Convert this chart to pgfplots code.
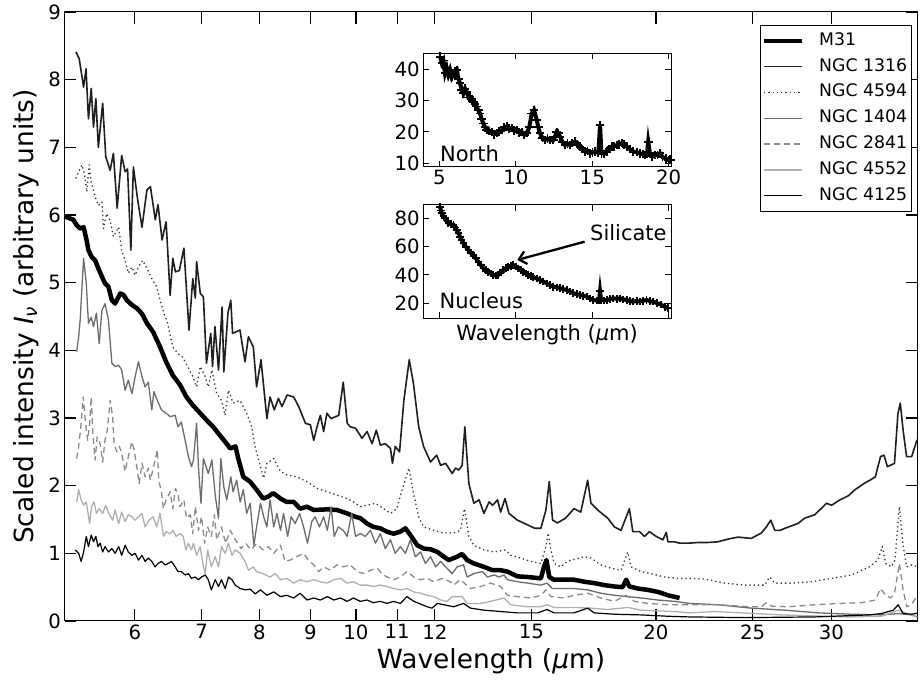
\documentclass[border=0pt]{standalone}
\usepackage{fontspec}
\setmainfont{DejaVu Sans}[ItalicFont={DejaVu Sans Oblique}]
\usepackage{pgfplots}
\pgfplotsset{compat=1.18}
\usetikzlibrary{arrows.meta}
\definecolor{cA}{HTML}{1E1E1E}
\definecolor{cB}{HTML}{333333}
\definecolor{cC}{HTML}{6B6B6B}
\definecolor{cD}{HTML}{8A8A8A}
\definecolor{cE}{HTML}{AFAFAF}
\newcommand\tfs{\fontsize{19.7}{23}\selectfont}
\newcommand\lab{\fontsize{26.4}{30}\selectfont}
\newcommand\lfs{\fontsize{17.3}{20}\selectfont}
\newcommand\ifs{\fontsize{21}{24}\selectfont}
\begin{document}
\begin{tikzpicture}
\path[use as bounding box] (-64.5pt,-61pt) rectangle (857.5pt,621pt);
\begin{axis}[
  at={(0pt,0pt)}, anchor=south west,
  width=853pt, height=609pt, scale only axis,
  xmode=log, xmin=5.1, xmax=36.6, ymin=0, ymax=9,
  xtick={6,7,8,9,10,11,12,15,20,25,30},
  xticklabels={6,7,8,9,10,11,12,15,20,25,30},
  ytick={0,1,2,3,4,5,6,7,8,9},
  xminorticks=false, yminorticks=false,
  tick pos=both, xticklabel pos=lower, yticklabel pos=left,
  tick align=inside,
  major tick length=12pt,
  major tick style={line width=1.2pt, black},
  axis line style={line width=1pt, black},
  ticklabel style={font=\tfs},
  /pgf/number format/assume math mode=true,
  xlabel={Wavelength ({\itshape μ}m)},
  ylabel={Scaled intensity {\itshape I\textsubscript{ν}} (arbitrary units)},
  xlabel style={font=\lab, at={(axis description cs:0.5,-0.0657)}, anchor=center},
  ylabel style={font=\lab, at={(axis description cs:-0.0451,0.5)}, anchor=center},
  legend cell align=left,
  legend image code/.code={\draw[#1,line cap=butt] (0pt,0pt) -- (38pt,0pt);},
  legend style={at={(1,1)}, anchor=north east, xshift=-6pt, yshift=-13pt,
    draw=black, line width=0.8pt, fill=white, font=\lfs,
    inner xsep=1pt, inner ysep=4pt, row sep=2.8pt,
    nodes={inner sep=3pt, text height=13pt, text depth=4pt},
    /tikz/every odd column/.append style={column sep=12pt}},
  line join=round,
]
% M31
\addplot[black, line width=4.5pt] coordinates {
(5.10,5.98)(5.205,5.93)(5.245,5.85)(5.288,5.80)(5.33,5.82)(5.363,5.65)(5.39,5.48)(5.43,5.38)(5.474,5.33)(5.515,5.21)(5.56,5.09)(5.60,4.99)(5.645,4.94)(5.69,4.74)(5.733,4.69)(5.80,4.84)(5.845,4.82)(5.89,4.74)(5.96,4.67)(6.03,4.62)(6.10,4.54)(6.17,4.40)(6.26,4.27)(6.36,4.05)(6.45,3.83)(6.55,3.63)(6.66,3.49)(6.76,3.31)(6.86,3.19)(6.98,3.07)(7.08,2.97)(7.19,2.87)(7.28,2.77)(7.39,2.65)(7.48,2.55)(7.57,2.58)(7.62,2.40)(7.71,2.13)(7.83,2.06)(7.95,1.94)(8.07,1.81)(8.17,1.84)(8.26,1.89)(8.40,1.81)(8.52,1.76)(8.66,1.76)(8.79,1.66)(8.93,1.69)(9.07,1.64)(9.36,1.65)(9.57,1.64)(9.80,1.59)(9.94,1.55)(10.10,1.52)(10.26,1.44)(10.41,1.39)(10.58,1.37)(10.74,1.32)(10.91,1.29)(11.08,1.32)(11.21,1.37)(11.34,1.27)(11.52,1.12)(11.69,1.07)(11.88,1.06)(12.07,1.02)(12.25,0.95)(12.39,0.90)(12.63,0.95)(12.78,0.99)(12.93,0.90)(13.13,0.85)(13.44,0.80)(13.71,0.75)(13.97,0.75)(14.19,0.73)(14.52,0.66)(14.87,0.65)(15.33,0.63)(15.44,0.80)(15.53,0.90)(15.63,0.65)(15.80,0.61)(16.16,0.61)(16.55,0.61)(16.95,0.58)(17.34,0.56)(17.75,0.53)(18.17,0.51)(18.52,0.50)(18.67,0.61)(18.81,0.51)(19.18,0.48)(19.62,0.46)(20.09,0.43)(20.56,0.38)(21.12,0.34)
};
\addlegendentry{M31}
% NGC 1316
\addplot[cA, line width=1.6pt] coordinates {
(5.236,8.41)(5.276,8.31)(5.330,7.89)(5.36,8.16)(5.39,7.42)(5.425,7.87)(5.453,7.30)(5.483,7.72)(5.515,7.00)(5.57,7.65)(5.61,6.86)(5.667,6.66)(5.71,6.91)(5.76,6.10)(5.82,6.88)(5.867,6.64)(5.90,6.68)(5.945,5.48)(5.98,6.71)(6.04,6.22)(6.10,5.82)(6.17,6.37)(6.22,6.42)(6.29,5.93)(6.33,6.15)(6.39,5.63)(6.45,5.90)(6.51,4.81)(6.55,5.36)(6.59,5.16)(6.65,5.18)(6.72,5.51)(6.80,4.30)(6.86,5.06)(6.90,4.77)(6.92,5.31)(6.98,4.84)(7.03,4.79)(7.08,3.81)(7.15,4.25)(7.18,3.76)(7.22,4.35)(7.28,3.71)(7.34,4.64)(7.37,3.68)(7.44,4.55)(7.49,4.74)(7.52,4.25)(7.65,4.30)(7.74,3.83)(7.80,4.20)(7.89,4.05)(7.95,3.46)(8.03,3.86)(8.14,2.99)(8.20,3.31)(8.28,3.12)(8.36,3.29)(8.43,3.17)(8.53,3.34)(8.66,3.31)(8.76,3.17)(8.90,2.92)(9.0,2.90)(9.07,2.67)(9.14,2.87)(9.21,3.04)(9.28,2.80)(9.35,3.07)(9.44,2.99)(9.61,3.04)(9.71,3.53)(9.80,2.92)(9.87,2.87)(9.99,2.85)(10.14,2.70)(10.26,2.80)(10.38,2.62)(10.48,2.82)(10.58,2.60)(10.70,2.62)(10.83,2.55)(10.88,2.33)(10.95,2.58)(11.06,2.50)(11.17,3.26)(11.31,3.86)(11.42,3.51)(11.56,2.87)(11.69,2.58)(11.88,2.35)(12.05,2.45)(12.16,2.30)(12.30,2.33)(12.49,2.18)(12.59,2.26)(12.68,2.23)(12.78,2.30)(12.86,2.87)(12.98,2.03)(13.13,1.74)(13.29,1.79)(13.44,1.59)(13.60,1.76)(13.71,1.71)(13.87,1.79)(13.97,1.61)(14.11,1.81)(14.24,1.59)(14.52,1.49)(14.87,1.42)(15.11,1.37)(15.33,1.37)(15.51,1.64)(15.63,2.06)(15.75,1.49)(15.93,1.45)(16.23,1.52)(16.55,1.66)(16.81,1.61)(17.08,2.08)(17.21,1.74)(17.48,1.64)(17.89,1.52)(18.17,1.39)(18.45,1.34)(18.81,1.66)(18.96,1.32)(19.26,1.32)(19.48,1.25)(19.70,1.32)(20.01,1.25)(20.32,1.20)(20.48,1.31)(20.56,1.17)(20.88,1.17)(21.12,1.15)(21.54,1.15)(22.05,1.16)(22.55,1.16)(23.07,1.17)(23.62,1.21)(24.17,1.24)(24.92,1.22)(25.51,1.30)(25.81,1.39)(26.07,1.49)(26.32,1.34)(26.63,1.34)(27.16,1.39)(27.76,1.44)(28.2,1.52)(28.86,1.57)(29.66,1.74)(30.0,1.71)(30.59,1.79)(31.19,1.85)(31.67,1.94)(32.41,2.04)(32.78,2.08)(33.2,2.13)(33.6,2.43)(33.87,2.45)(34.14,2.28)(34.7,2.33)(34.98,3.07)(35.17,3.22)(35.40,2.82)(35.68,2.43)(36.11,2.43)(36.54,2.67)(36.7,2.67)
};
\addlegendentry{NGC 1316}
% NGC 4594
\addplot[cB, line width=1.3pt, dash pattern=on 1.3pt off 3pt] coordinates {
(5.236,6.54)(5.27,6.64)(5.31,6.74)(5.34,6.61)(5.37,6.34)(5.40,6.74)(5.42,6.51)(5.474,6.27)(5.515,6.14)(5.56,6.19)(5.58,5.80)(5.62,6.02)(5.667,5.92)(5.71,5.68)(5.78,5.82)(5.82,5.48)(5.867,5.33)(5.91,5.14)(5.96,5.23)(6.004,5.11)(6.05,5.23)(6.11,5.33)(6.17,5.21)(6.24,5.06)(6.31,4.94)(6.36,4.74)(6.435,4.49)(6.46,4.45)(6.55,4.05)(6.63,3.95)(6.70,3.90)(6.78,3.76)(6.86,3.61)(6.92,3.46)(6.98,3.76)(7.06,3.61)(7.11,3.46)(7.17,3.71)(7.25,3.36)(7.33,3.26)(7.39,3.04)(7.45,3.41)(7.53,3.22)(7.65,3.26)(7.77,3.07)(7.86,2.87)(7.92,2.58)(8.02,2.28)(8.08,2.11)(8.14,2.33)(8.27,2.40)(8.40,2.21)(8.52,2.16)(8.72,2.13)(8.93,2.06)(9.14,1.96)(9.36,1.91)(9.57,1.86)(9.80,1.81)(9.94,1.76)(10.10,1.69)(10.26,1.71)(10.46,1.74)(10.66,1.66)(10.83,1.59)(10.99,1.66)(11.12,1.93)(11.30,2.26)(11.42,1.89)(11.56,1.54)(11.69,1.39)(11.97,1.34)(12.25,1.30)(12.53,1.30)(12.73,1.34)(12.85,1.66)(12.98,1.25)(13.13,1.12)(13.44,1.05)(13.76,1.02)(14.13,1.05)(14.30,0.97)(14.63,0.93)(14.98,0.88)(15.33,0.85)(15.51,1.10)(15.59,1.30)(15.69,1.05)(15.81,0.85)(16.05,0.80)(16.30,0.88)(16.55,0.91)(16.95,0.95)(17.21,0.93)(17.61,0.83)(18.02,0.78)(18.45,0.75)(18.74,1.02)(18.88,0.80)(19.32,0.73)(19.77,0.70)(20.39,0.65)(21.04,0.63)(21.61,0.63)(22.37,0.62)(23.43,0.56)(24.54,0.53)(25.71,0.53)(26.0,0.65)(26.32,0.56)(27.34,0.56)(28.64,0.58)(30.0,0.63)(31.42,0.68)(32.74,0.80)(33.4,0.90)(33.74,1.10)(34.0,0.85)(34.46,0.80)(34.74,0.90)(35.1,1.69)(35.37,1.15)(35.69,0.80)(36.11,0.83)(36.6,0.80)
};
\addlegendentry{NGC 4594}
% NGC 1404
\addplot[cC, line width=1.3pt] coordinates {
(5.245,3.98)(5.27,4.20)(5.288,4.45)(5.33,5.36)(5.363,4.99)(5.39,4.40)(5.425,4.49)(5.453,4.35)(5.49,4.55)(5.525,4.10)(5.56,4.59)(5.60,4.69)(5.645,4.45)(5.69,3.81)(5.733,3.76)(5.78,3.78)(5.82,3.71)(5.867,3.41)(5.91,3.56)(5.96,3.36)(6.004,3.61)(6.05,3.83)(6.10,3.61)(6.144,3.46)(6.19,3.53)(6.24,3.12)(6.27,3.39)(6.32,3.26)(6.38,3.12)(6.45,3.07)(6.51,3.02)(6.586,3.04)(6.63,2.87)(6.68,2.94)(6.74,2.67)(6.79,2.43)(6.84,2.28)(6.87,2.38)(6.92,2.92)(6.95,2.28)(6.99,1.74)(7.03,2.40)(7.11,2.18)(7.17,2.38)(7.224,1.86)(7.28,1.52)(7.32,2.40)(7.37,1.98)(7.42,1.79)(7.49,2.13)(7.53,1.91)(7.59,2.08)(7.654,1.76)(7.71,1.94)(7.77,1.59)(7.833,1.74)(7.90,1.12)(7.95,1.39)(8.02,1.74)(8.08,1.54)(8.14,1.39)(8.20,1.79)(8.27,1.39)(8.33,1.59)(8.40,1.34)(8.46,1.59)(8.54,1.25)(8.61,1.54)(8.69,1.44)(8.78,1.59)(8.86,1.39)(8.94,1.15)(9.03,1.47)(9.10,1.54)(9.19,1.39)(9.28,1.54)(9.36,1.34)(9.44,1.69)(9.51,1.25)(9.60,1.39)(9.71,1.34)(9.80,1.25)(9.90,1.59)(9.99,1.25)(10.10,1.29)(10.22,1.25)(10.34,1.34)(10.46,1.15)(10.58,1.29)(10.70,1.07)(10.83,1.20)(10.95,1.00)(11.08,1.10)(11.21,1.00)(11.34,1.20)(11.47,0.95)(11.61,1.02)(11.74,0.85)(11.88,0.95)(12.02,0.80)(12.16,0.88)(12.30,0.80)(12.49,0.70)(12.63,0.80)(12.82,0.83)(12.93,0.65)(13.13,0.70)(13.39,0.73)(13.55,0.65)(13.76,0.68)(13.92,0.65)(14.08,0.68)(14.19,0.61)(14.52,0.58)(14.87,0.56)(15.33,0.53)(15.55,0.56)(15.74,0.48)(16.18,0.48)(16.55,0.48)(17.08,0.46)(17.61,0.41)(18.17,0.38)(18.74,0.36)(19.32,0.34)(20.09,0.31)(20.88,0.29)(21.61,0.26)(23.07,0.24)(24.92,0.19)(26.93,0.16)(29.09,0.12)(31.42,0.10)(33.68,0.09)(35.02,0.11)(36.11,0.09)(36.6,0.06)
};
\addlegendentry{NGC 1404}
% NGC 2841
\addplot[cD, line width=1.3pt, dash pattern=on 6pt off 4pt] coordinates {
(5.245,2.40)(5.27,2.58)(5.30,2.92)(5.325,3.31)(5.35,2.97)(5.38,2.67)(5.405,2.92)(5.425,3.31)(5.445,2.77)(5.474,2.38)(5.50,2.72)(5.538,2.62)(5.57,2.35)(5.60,2.67)(5.63,2.82)(5.667,3.26)(5.70,3.02)(5.72,2.62)(5.755,2.50)(5.79,2.58)(5.82,2.48)(5.867,2.21)(5.91,2.43)(5.96,2.65)(5.99,2.53)(6.03,2.26)(6.06,2.03)(6.10,2.33)(6.144,2.13)(6.19,2.26)(6.22,2.08)(6.27,2.30)(6.32,2.53)(6.34,2.08)(6.38,1.91)(6.41,1.66)(6.45,1.79)(6.51,1.91)(6.55,1.66)(6.59,1.96)(6.63,1.86)(6.66,1.69)(6.72,1.79)(6.76,1.52)(6.82,1.57)(6.86,1.29)(6.90,1.69)(6.95,1.34)(7.00,1.54)(7.05,1.15)(7.10,1.39)(7.16,1.25)(7.21,1.57)(7.25,1.20)(7.33,1.39)(7.40,1.15)(7.48,1.34)(7.57,1.20)(7.67,1.07)(7.75,1.15)(7.85,1.05)(7.95,1.14)(8.07,1.05)(8.17,1.10)(8.27,1.00)(8.40,1.12)(8.49,0.88)(8.59,0.90)(8.72,0.95)(8.86,1.00)(8.96,0.90)(9.07,0.83)(9.18,0.73)(9.28,0.80)(9.43,0.75)(9.57,0.83)(9.71,0.80)(9.87,0.83)(10.03,0.73)(10.19,0.70)(10.34,0.75)(10.50,0.78)(10.62,0.70)(10.74,0.65)(10.91,0.61)(11.08,0.65)(11.25,0.73)(11.43,0.65)(11.61,0.61)(11.79,0.63)(11.97,0.58)(12.20,0.63)(12.44,0.58)(12.53,0.53)(12.73,0.61)(13.03,0.48)(13.34,0.51)(13.65,0.56)(13.97,0.51)(14.19,0.38)(14.52,0.36)(14.98,0.34)(15.33,0.38)(15.51,0.46)(15.69,0.36)(16.18,0.34)(16.55,0.38)(17.08,0.41)(17.61,0.34)(18.17,0.29)(18.67,0.38)(19.03,0.29)(19.62,0.26)(20.56,0.24)(21.54,0.24)(23.07,0.24)(24.92,0.21)(25.51,0.21)(25.81,0.27)(26.11,0.22)(27.16,0.21)(28.86,0.24)(30.70,0.26)(32.16,0.27)(33.2,0.31)(33.6,0.48)(34.0,0.38)(34.4,0.34)(34.7,0.41)(35.1,0.85)(35.4,0.46)(35.7,0.21)(36.1,0.24)(36.5,0.36)(36.7,0.34)
};
\addlegendentry{NGC 2841}
% NGC 4552
\addplot[cE, line width=1.3pt] coordinates {
(5.245,1.76)(5.27,1.94)(5.30,1.79)(5.33,1.71)(5.363,1.76)(5.405,1.44)(5.43,1.69)(5.46,1.76)(5.49,1.59)(5.525,1.66)(5.57,1.59)(5.61,1.71)(5.65,1.59)(5.70,1.49)(5.733,1.64)(5.78,1.44)(5.82,1.61)(5.867,1.47)(5.91,1.57)(5.96,1.54)(6.004,1.49)(6.05,1.54)(6.10,1.59)(6.144,1.39)(6.20,1.49)(6.26,1.54)(6.31,1.39)(6.36,1.59)(6.41,1.25)(6.45,1.32)(6.51,1.29)(6.55,1.34)(6.60,1.25)(6.66,1.29)(6.71,1.25)(6.75,1.05)(6.79,1.15)(6.84,1.05)(6.87,1.15)(6.92,0.97)(6.977,1.10)(7.03,0.80)(7.06,0.70)(7.10,1.05)(7.16,0.80)(7.224,0.95)(7.28,0.80)(7.33,1.10)(7.393,1.00)(7.45,1.15)(7.51,0.97)(7.566,1.05)(7.654,1.00)(7.743,0.88)(7.80,0.75)(7.89,0.80)(7.95,0.73)(8.07,0.70)(8.20,0.65)(8.30,0.70)(8.40,0.61)(8.52,0.63)(8.66,0.56)(8.79,0.61)(8.93,0.58)(9.07,0.61)(9.21,0.58)(9.36,0.56)(9.50,0.61)(9.65,0.63)(9.80,0.56)(9.94,0.58)(10.10,0.53)(10.26,0.53)(10.41,0.51)(10.58,0.53)(10.74,0.51)(10.91,0.48)(11.08,0.46)(11.25,0.48)(11.43,0.43)(11.61,0.41)(11.79,0.38)(11.97,0.36)(12.16,0.31)(12.34,0.29)(12.49,0.36)(12.78,0.36)(12.93,0.26)(13.34,0.26)(13.65,0.29)(14.08,0.34)(14.30,0.24)(14.87,0.21)(15.33,0.21)(15.55,0.24)(15.80,0.20)(16.55,0.20)(17.21,0.19)(17.89,0.17)(18.74,0.20)(19.32,0.16)(20.88,0.14)(21.61,0.12)(22.9,0.14)(26.72,0.09)(31.2,0.06)(33.68,0.07)(35.0,0.16)(36.5,0.06)
};
\addlegendentry{NGC 4552}
% NGC 4125
\addplot[black, line width=1.2pt] coordinates {
(5.227,1.05)(5.27,1.00)(5.30,0.88)(5.33,1.02)(5.363,1.25)(5.39,1.10)(5.425,1.27)(5.453,1.17)(5.483,1.25)(5.51,1.10)(5.538,1.15)(5.57,1.02)(5.60,1.10)(5.645,1.02)(5.69,1.07)(5.733,1.00)(5.78,1.10)(5.82,0.97)(5.867,1.12)(5.91,1.02)(5.96,0.97)(6.004,1.00)(6.05,0.90)(6.10,0.97)(6.144,0.88)(6.19,0.93)(6.24,0.88)(6.288,0.80)(6.33,0.85)(6.38,0.88)(6.435,0.83)(6.48,0.85)(6.53,0.88)(6.586,0.80)(6.63,0.73)(6.68,0.73)(6.74,0.68)(6.79,0.70)(6.84,0.63)(6.897,0.65)(6.95,0.61)(7.00,0.65)(7.06,0.68)(7.11,0.61)(7.16,0.46)(7.224,0.61)(7.28,0.51)(7.33,0.61)(7.393,0.48)(7.45,0.65)(7.51,0.61)(7.566,0.53)(7.654,0.48)(7.743,0.46)(7.833,0.47)(7.924,0.40)(8.02,0.46)(8.14,0.38)(8.27,0.43)(8.40,0.36)(8.52,0.38)(8.66,0.34)(8.79,0.41)(8.93,0.31)(9.07,0.34)(9.21,0.31)(9.36,0.36)(9.50,0.31)(9.65,0.34)(9.80,0.29)(9.94,0.34)(10.10,0.29)(10.26,0.31)(10.41,0.27)(10.58,0.29)(10.74,0.26)(10.91,0.29)(11.08,0.26)(11.25,0.36)(11.43,0.29)(11.61,0.25)(11.79,0.21)(11.92,0.19)(12.07,0.26)(12.25,0.24)(12.44,0.22)(12.53,0.21)(12.82,0.26)(13.03,0.19)(13.44,0.16)(13.97,0.14)(14.52,0.12)(15.22,0.12)(15.55,0.17)(15.80,0.12)(16.55,0.12)(17.08,0.19)(17.34,0.12)(18.17,0.10)(19.32,0.09)(20.56,0.07)(21.61,0.06)(24.6,0.05)(28.86,0.06)(32.74,0.09)(33.68,0.11)(34.6,0.16)(35.0,0.24)(35.4,0.11)(36.11,0.10)(36.7,0.12)
};
\addlegendentry{NGC 4125}
\end{axis}
% ---- inset: North
\begin{axis}[
  at={(358.8pt,454.3pt)}, anchor=south west,
  width=247.7pt, height=113.4pt, scale only axis,
  xmin=3.95, xmax=20.15, ymin=8.9, ymax=45.1,
  xtick={5,10,15,20}, ytick={10,20,30,40},
  tick pos=both, xticklabel pos=lower, yticklabel pos=left,
  major tick length=6pt, major tick style={line width=1pt, black},
  axis line style={line width=1pt, black},
  axis background/.style={fill=white},
  ticklabel style={font=\tfs},
  /pgf/number format/assume math mode=true,
]
\addplot[black, line width=4pt, mark=+, mark size=4.3pt, mark options={line width=1.8pt}] coordinates {
(5.05,44.0)(5.16,41.9)(5.26,42.8)(5.37,38.7)(5.48,40.5)(5.59,38.2)(5.70,39.8)(5.81,37.5)(5.92,38.7)(6.03,39.2)(6.14,39.8)(6.25,37.0)(6.35,35.5)(6.46,33.5)(6.57,32.3)(6.68,33.8)(6.79,32.8)(6.90,31.0)(7.0,31.2)(7.11,30.5)(7.22,29.6)(7.33,28.8)(7.44,28.1)(7.55,27.0)(7.66,25.9)(7.77,24.0)(7.88,22.7)(7.99,21.5)(8.10,20.6)(8.26,20.3)(8.42,20.0)(8.58,19.2)(8.75,19.6)(8.91,20.2)(9.08,20.6)(9.24,21.5)(9.40,21.7)(9.56,21.0)(9.73,21.2)(9.89,20.4)(10.06,20.6)(10.22,19.8)(10.39,20.0)(10.55,19.0)(10.71,19.6)(10.88,21.5)(11.04,25.9)(11.19,27.0)(11.37,23.8)(11.47,21.5)(11.58,19.6)(11.75,18.0)(11.91,17.4)(12.07,17.9)(12.24,17.4)(12.45,17.4)(12.56,18.5)(12.67,20.0)(12.78,19.6)(12.89,18.5)(13.05,16.8)(13.22,15.8)(13.38,16.3)(13.54,15.8)(13.70,16.5)(13.87,16.9)(14.03,15.9)(14.20,15.3)(14.36,14.5)(14.53,13.7)(14.69,13.9)(14.85,13.2)(15.02,13.5)(15.18,13.7)(15.40,13.4)(15.51,22.2)(15.60,13.2)(15.78,13.0)(15.95,13.7)(16.11,14.5)(16.27,15.3)(16.44,15.4)(16.60,15.8)(16.76,16.0)(16.92,16.4)(17.08,15.9)(17.25,15.3)(17.46,14.5)(17.68,13.7)(17.90,13.6)(18.12,13.2)(18.30,12.9)(18.45,12.6)(18.58,13.0)(18.66,16.9)(18.77,13.2)(18.93,12.2)(19.10,12.6)(19.27,12.6)(19.43,13.2)(19.60,12.0)(19.80,11.5)(20.0,11.0)(20.1,11.1)
};
\node[anchor=base west, font=\ifs, inner sep=0pt] at (rel axis cs:0.067,0.044) {North};
\end{axis}
% ---- inset: Nucleus
\begin{axis}[
  at={(358.8pt,302.7pt)}, anchor=south west,
  width=247.7pt, height=113.3pt, scale only axis,
  xmin=3.95, xmax=20.15, ymin=9.4, ymax=89.4,
  xtick={5,10,15,20}, ytick={20,40,60,80}, xticklabels={},
  tick pos=both, yticklabel pos=left,
  major tick length=6pt, major tick style={line width=1pt, black},
  axis line style={line width=1pt, black},
  axis background/.style={fill=white},
  ticklabel style={font=\tfs},
  /pgf/number format/assume math mode=true,
  xlabel={Wavelength ({\itshape μ}m)},
  xlabel style={font=\ifs, at={(axis description cs:0.5,-0.147)}, anchor=center},
]
\addplot[black, line width=4pt, mark=+, mark size=3.8pt, mark options={line width=1.8pt}] coordinates {
(5.05,88.2)(5.10,85.5)(5.16,83.5)(5.27,81.5)(5.37,80)(5.48,78.5)(5.59,76.5)(5.75,75.8)(5.92,75.3)(6.03,73.5)(6.14,71.7)(6.25,69.5)(6.35,67.0)(6.46,64.8)(6.57,62.4)(6.73,60.0)(6.9,57.6)(7.06,55.6)(7.22,54.1)(7.38,51.8)(7.55,49.4)(7.71,47.0)(7.88,44.7)(8.04,43.4)(8.20,42.3)(8.36,41.0)(8.53,40)(8.70,39.6)(8.86,40)(9.02,41.8)(9.18,43.5)(9.35,44.9)(9.51,45.8)(9.67,46.5)(9.84,47.0)(10.00,46.0)(10.16,44.7)(10.33,43.4)(10.49,42.3)(10.65,41.0)(10.82,40)(10.98,39.3)(11.14,38.4)(11.36,37.5)(11.58,36.5)(11.80,35.3)(12.02,34.1)(12.24,32.8)(12.45,31.7)(12.67,31.2)(12.89,30.6)(13.11,30.0)(13.33,29.4)(13.55,28.2)(13.76,27.1)(13.98,26.5)(14.2,25.9)(14.41,25.3)(14.63,24.7)(14.85,23.4)(15.07,22.3)(15.29,22.0)(15.45,22.3)(15.51,28.5)(15.58,22.3)(15.77,22.0)(15.95,22.3)(16.17,23.0)(16.38,23.5)(16.60,23.2)(16.82,23.5)(17.03,22.8)(17.25,22.3)(17.46,21.6)(17.68,21.2)(17.90,21.6)(18.12,21.2)(18.33,21.8)(18.55,22.3)(18.77,21.5)(18.99,21.2)(19.25,20.0)(19.5,19.0)(19.75,17.5)(19.96,16.5)
};
\node[anchor=base west, font=\ifs, inner sep=0pt] at (rel axis cs:0.065,0.088) {Nucleus};
\node[anchor=base west, font=\ifs, inner sep=0pt] at (rel axis cs:0.673,0.691) {Silicate};
\draw[line width=2.3pt, -{Straight Barb[length=7pt,width=13pt,line width=2.3pt]}] (axis cs:14.5,63.5) -- (axis cs:10.1,50.6);
\end{axis}
\end{tikzpicture}
\end{document}
